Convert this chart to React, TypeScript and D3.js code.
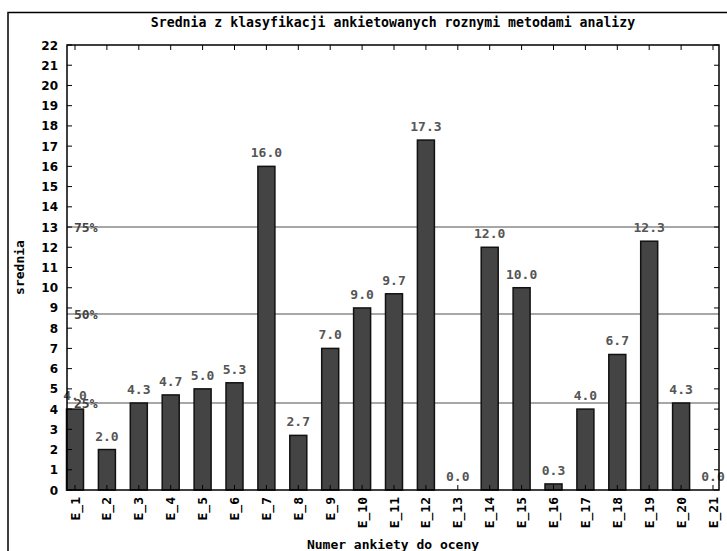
import React from "react";
import * as d3 from "d3";

const categories = [
  "E_1", "E_2", "E_3", "E_4", "E_5", "E_6", "E_7", "E_8", "E_9", "E_10",
  "E_11", "E_12", "E_13", "E_14", "E_15", "E_16", "E_17", "E_18", "E_19", "E_20", "E_21",
];
const values = [4.0, 2.0, 4.3, 4.7, 5.0, 5.3, 16.0, 2.7, 7.0, 9.0, 9.7, 17.3, 0.0, 12.0, 10.0, 0.3, 4.0, 6.7, 12.3, 4.3, 0.0];
const quartileLabels = ["25%", "50%", "75%"];
const quartileValues = [4.3, 8.7, 13.0];
const yTicks = d3.range(0, 23);

const W = 727;
const H = 551;
const plot = { left: 67, right: 719, top: 45, bottom: 490 };
const font = "'DejaVu Sans Mono', 'Liberation Mono', monospace";
const sans = "'DejaVu Sans', 'Liberation Sans', sans-serif";

export default function App() {
  const x = d3.scaleLinear().domain([0, categories.length - 1]).range([75, 713]);
  const y = d3.scaleLinear().domain([0, 22]).range([plot.bottom, plot.top]);
  const barW = 17;
  const midX = (plot.left + plot.right) / 2;

  return (
    <svg width={W} height={H} style={{ position: "absolute", left: 0, top: 0, background: "#fff" }}>
      <rect x={0} y={0} width={W} height={H} fill="#fff" />
      {/* outer frame */}
      <path d={`M8,${H} V12.5 H${W}`} fill="none" stroke="#000" strokeWidth={1.5} />

      <text x={midX} y={27} textAnchor="middle" fontFamily={font} fontWeight="bold" fontSize={13.2}>
        Srednia z klasyfikacji ankietowanych roznymi metodami analizy
      </text>

      {/* quartile lines */}
      {quartileValues.map((q, i) => (
        <line key={quartileLabels[i]} x1={plot.left} x2={plot.right} y1={y(q)} y2={y(q)} stroke="#8a8a8a" strokeWidth={1.5} />
      ))}

      {/* bars */}
      {values.map((v, i) => (
        <rect
          key={categories[i]}
          x={x(i) - barW / 2}
          y={y(v)}
          width={barW}
          height={Math.max(0, y(0) - y(v))}
          fill="#444"
          stroke="#111"
          strokeWidth={1.5}
        />
      ))}

      {quartileValues.map((q, i) => (
        <text key={"l" + i} x={74} y={y(q) + 4.5} fontFamily={font} fontWeight="bold" fontSize={13} fill="#444">
          {quartileLabels[i]}
        </text>
      ))}

      {/* value labels */}
      {values.map((v, i) => (
        <text
          key={"v" + i}
          x={x(i)}
          y={y(v) - 9}
          textAnchor="middle"
          fontFamily={font}
          fontWeight="bold"
          fontSize={13}
          fill="#555"
        >
          {v.toFixed(1)}
        </text>
      ))}

      {/* frame of plot */}
      <rect
        x={plot.left}
        y={plot.top}
        width={plot.right - plot.left}
        height={plot.bottom - plot.top}
        fill="none"
        stroke="#000"
        strokeWidth={1.5}
      />

      {/* y ticks */}
      {yTicks.map((t) => (
        <g key={"y" + t}>
          <line x1={plot.left} x2={plot.left + 5} y1={y(t)} y2={y(t)} stroke="#000" />
          <line x1={plot.right} x2={plot.right - 5} y1={y(t)} y2={y(t)} stroke="#000" />
          <text x={58} y={y(t) + 4.5} textAnchor="end" fontFamily={sans} fontWeight="bold" fontSize={12}>
            {t}
          </text>
        </g>
      ))}

      {/* x ticks */}
      {categories.map((c, i) => (
        <g key={"x" + c}>
          <line x1={x(i)} x2={x(i)} y1={plot.top} y2={plot.top + 5} stroke="#000" />
          <line x1={x(i)} x2={x(i)} y1={plot.bottom} y2={plot.bottom - 5} stroke="#000" />
          <text
            transform={`translate(${x(i) + 4.5},${plot.bottom + 7}) rotate(-90)`}
            textAnchor="end"
            fontFamily={font}
            fontWeight="bold"
            fontSize={13}
          >
            {c}
          </text>
        </g>
      ))}

      <text
        transform={`translate(24,${(plot.top + plot.bottom) / 2}) rotate(-90)`}
        textAnchor="middle"
        fontFamily={font}
        fontWeight="bold"
        fontSize={13}
      >
        srednia
      </text>
      <text x={midX} y={549} textAnchor="middle" fontFamily={font} fontWeight="bold" fontSize={13}>
        Numer ankiety do oceny
      </text>
    </svg>
  );
}
